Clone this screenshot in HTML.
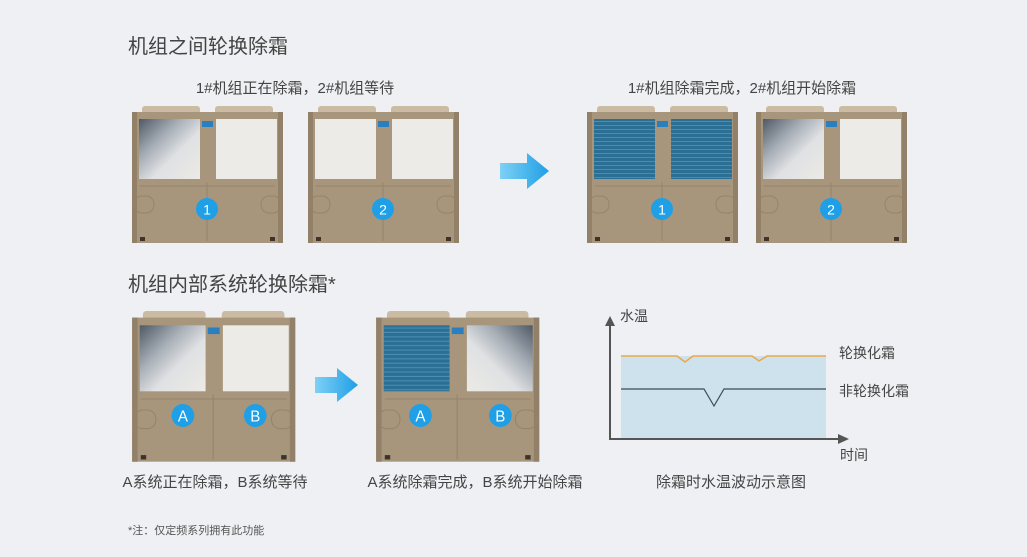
<!DOCTYPE html>
<html><head><meta charset="utf-8"><style>
html,body{margin:0;padding:0;background:#eef0f3;}
svg{display:block;font-family:"Liberation Sans","Noto Sans CJK SC",sans-serif;}
</style></head><body>
<svg width="1027" height="557" viewBox="0 0 1027 557" xmlns="http://www.w3.org/2000/svg">
<defs>
<linearGradient id="frost" x1="0" y1="0" x2="1" y2="1">
<stop offset="0" stop-color="#4f5a66"/><stop offset="0.35" stop-color="#a9b0b8"/><stop offset="0.6" stop-color="#dfe1e3"/><stop offset="1" stop-color="#eceae6"/></linearGradient>
<pattern id="fins" width="4" height="4" patternUnits="userSpaceOnUse"><rect width="4" height="4" fill="#2b6f95"/><rect y="3" width="4" height="1" fill="#4a8db2"/></pattern>
<linearGradient id="arr" x1="0" y1="0" x2="1" y2="0"><stop offset="0" stop-color="#7fd0f5"/><stop offset="1" stop-color="#1f9fe6"/></linearGradient>
<g id="body">
<rect x="12" y="0" width="58" height="9" rx="3" fill="#cbbba2"/>
<rect x="85" y="0" width="58" height="9" rx="3" fill="#cbbba2"/>
<rect x="2" y="6" width="151" height="131" fill="#a8967c"/>
<rect x="2" y="6" width="5" height="131" fill="#928068"/>
<rect x="148" y="6" width="5" height="131" fill="#928068"/>
<rect x="72" y="15" width="11" height="6" fill="#2a7fc0"/>
<line x1="77" y1="76" x2="77" y2="135" stroke="#95836b"/>
<line x1="10" y1="80" x2="145" y2="80" stroke="#95836b"/>
<rect x="4" y="90" width="20" height="17" rx="8" fill="none" stroke="#95836b"/>
<rect x="131" y="90" width="20" height="17" rx="8" fill="none" stroke="#95836b"/>
<rect x="10" y="131" width="5" height="4" fill="#3a342c"/>
<rect x="140" y="131" width="5" height="4" fill="#3a342c"/>
</g>
</defs>

<text x="128" y="53" font-size="20" fill="#444">机组之间轮换除霜</text>
<text x="295" y="93" font-size="15" fill="#444" text-anchor="middle">1#机组正在除霜，2#机组等待</text>
<text x="742" y="93" font-size="15" fill="#444" text-anchor="middle">1#机组除霜完成，2#机组开始除霜</text>
<text x="128" y="291" font-size="20" fill="#444">机组内部系统轮换除霜*</text>

<!-- top units -->
<g transform="translate(130,106)"><use href="#body"/><rect x="9" y="13" width="61" height="60" fill="url(#frost)"/><rect x="86" y="13" width="61" height="60" fill="#ecebe7"/><circle cx="77" cy="103" r="11" fill="#1e9fe6"/><text x="77" y="108.5" font-size="14" fill="#fff" text-anchor="middle">1</text></g>
<g transform="translate(306,106)"><use href="#body"/><rect x="9" y="13" width="61" height="60" fill="#ecebe7"/><rect x="86" y="13" width="61" height="60" fill="#ecebe7"/><circle cx="77" cy="103" r="11" fill="#1e9fe6"/><text x="77" y="108.5" font-size="14" fill="#fff" text-anchor="middle">2</text></g>
<g transform="translate(585,106)"><use href="#body"/><rect x="9" y="13" width="61" height="60" fill="url(#fins)"/><rect x="86" y="13" width="61" height="60" fill="url(#fins)"/><circle cx="77" cy="103" r="11" fill="#1e9fe6"/><text x="77" y="108.5" font-size="14" fill="#fff" text-anchor="middle">1</text></g>
<g transform="translate(754,106)"><use href="#body"/><rect x="9" y="13" width="61" height="60" fill="url(#frost)"/><rect x="86" y="13" width="61" height="60" fill="#ecebe7"/><circle cx="77" cy="103" r="11" fill="#1e9fe6"/><text x="77" y="108.5" font-size="14" fill="#fff" text-anchor="middle">2</text></g>

<path d="M500,163 H527 V153 L549,171 L527,189 V179 H500 Z" fill="url(#arr)"/>

<!-- bottom units -->
<g transform="translate(130,311) scale(1.08,1.1)"><use href="#body"/><rect x="9" y="13" width="61" height="60" fill="url(#frost)"/><rect x="86" y="13" width="61" height="60" fill="#ecebe7"/><circle cx="49" cy="95" r="10.5" fill="#1e9fe6"/><text x="49" y="100.5" font-size="14" fill="#fff" text-anchor="middle">A</text><circle cx="116" cy="95" r="10.5" fill="#1e9fe6"/><text x="116" y="100.5" font-size="14" fill="#fff" text-anchor="middle">B</text></g>
<g transform="translate(374,311) scale(1.08,1.1)"><use href="#body"/><rect x="9" y="13" width="61" height="60" fill="url(#fins)"/><rect x="86" y="13" width="61" height="60" fill="url(#frost)" transform="translate(233,0) scale(-1,1)"/><circle cx="43" cy="95" r="10.5" fill="#1e9fe6"/><text x="43" y="100.5" font-size="14" fill="#fff" text-anchor="middle">A</text><circle cx="117" cy="95" r="10.5" fill="#1e9fe6"/><text x="117" y="100.5" font-size="14" fill="#fff" text-anchor="middle">B</text></g>

<path d="M315,377 H337 V368 L358,385 L337,402 V393 H315 Z" fill="url(#arr)"/>

<text x="215" y="487" font-size="15" fill="#444" text-anchor="middle">A系统正在除霜，B系统等待</text>
<text x="475" y="487" font-size="15" fill="#444" text-anchor="middle">A系统除霜完成，B系统开始除霜</text>

<!-- chart -->
<rect x="621" y="356" width="205" height="82" fill="#cde2ec"/>
<path d="M621,356 H677 L685,362 L693,356 H752 L759,361 L767,356 H826" fill="none" stroke="#e8a94a" stroke-width="1.5"/>
<path d="M621,389 H704 L714,406 L724,389 H826" fill="none" stroke="#3c4a55" stroke-width="1.2"/>
<line x1="610" y1="440" x2="610" y2="322" stroke="#555" stroke-width="2"/>
<path d="M605,326 L610,316 L615,326 Z" fill="#555"/>
<line x1="609" y1="439" x2="842" y2="439" stroke="#555" stroke-width="2"/>
<path d="M838,434 L849,439 L838,444 Z" fill="#555"/>
<text x="620" y="321" font-size="14" fill="#444">水温</text>
<text x="839" y="358" font-size="14" fill="#444">轮换化霜</text>
<text x="839" y="396" font-size="14" fill="#444">非轮换化霜</text>
<text x="840" y="460" font-size="14" fill="#444">时间</text>
<text x="731" y="487" font-size="15" fill="#444" text-anchor="middle">除霜时水温波动示意图</text>

<text x="128" y="534" font-size="11" fill="#555">*注：仅定频系列拥有此功能</text>
</svg>
</body></html>
